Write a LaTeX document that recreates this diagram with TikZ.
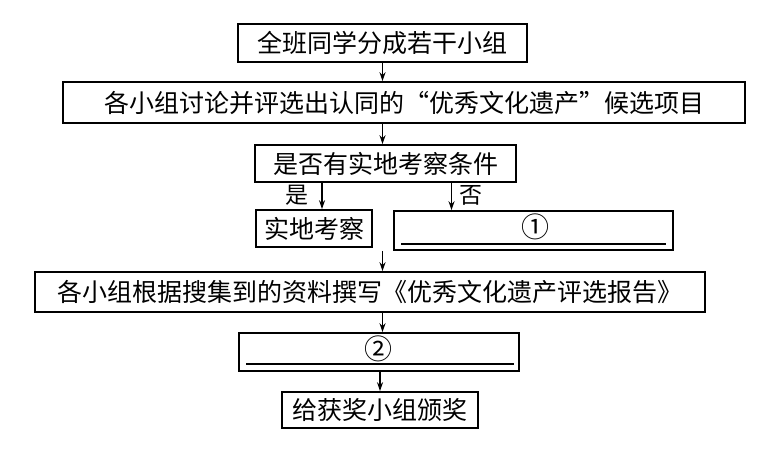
\documentclass[tikz,border=0pt]{standalone}
\usepackage{fontspec}
\setmainfont{Noto Sans CJK SC}
\usetikzlibrary{arrows.meta}
\begin{document}
\begin{tikzpicture}[x=1pt,y=-1pt,
  box/.style={draw,line width=1.6pt,rectangle,inner sep=0pt,align=center,font=\fontsize{25}{28}\selectfont},
  arr/.style={line width=1.2pt,-{Stealth[length=9pt,width=6pt]}},
  lbl/.style={font=\fontsize{23}{26}\selectfont,inner sep=0pt},
  num/.style={font=\fontsize{28}{30}\selectfont,inner sep=0pt}]
\useasboundingbox (0,0) rectangle (760,452);
\node[box,minimum width=289pt,minimum height=38pt] (b1) at (382.5,43) {全班同学分成若干小组};
\node[box,minimum width=682pt,minimum height=41pt] (b2) at (404,102.5) {各小组讨论并评选出认同的“优秀文化遗产”候选项目};
\node[box,minimum width=261pt,minimum height=37pt] (b3) at (385.5,163.5) {是否有实地考察条件};
\node[box,minimum width=116pt,minimum height=37pt] (b4) at (314,228.5) {实地考察};
\node[box,minimum width=279pt,minimum height=39pt] (b5) at (533.5,230.5) {};
\node[num] (c1) at (535,227) {①};
\node[box,minimum width=670pt,minimum height=40pt] (b6) at (370,292) {各小组根据搜集到的资料撰写《优秀文化遗产评选报告》};
\node[box,minimum width=280pt,minimum height=38pt] (b7) at (379,352) {};
\node[num] (c2) at (378,349) {②};
\node[box,minimum width=196pt,minimum height=36pt] (b8) at (380,410) {给获奖小组颁奖};
\node[lbl] (yes) at (297,195) {是};
\node[lbl] (no) at (471,195) {否};
% underlines
\draw[line width=1.4pt] ([xshift=8pt,yshift=7pt]b5.south west) -- ([xshift=-8pt,yshift=7pt]b5.south east);
\draw[line width=1.4pt] ([xshift=8pt,yshift=8pt]b7.south west) -- ([xshift=-6pt,yshift=8pt]b7.south east);
% arrows
\draw[arr] (b1.south) -- (b1.south |- b2.north);
\draw[arr] (b1.south |- b2.south) -- (b1.south |- b3.north);
\draw[arr] ([xshift=8pt]b4.north |- b3.south) -- ([xshift=8pt]b4.north);
\draw[arr] ([xshift=-82pt]b5.north |- b3.south) -- ([xshift=-82pt]b5.north);
\draw[arr] (b1.south |- b5.south) -- (b1.south |- b6.north);
\draw[arr] (b1.south |- b6.south) -- (b1.south |- b7.north);
\draw[arr] (b8.north |- b7.south) -- (b8.north);
\end{tikzpicture}
\end{document}
